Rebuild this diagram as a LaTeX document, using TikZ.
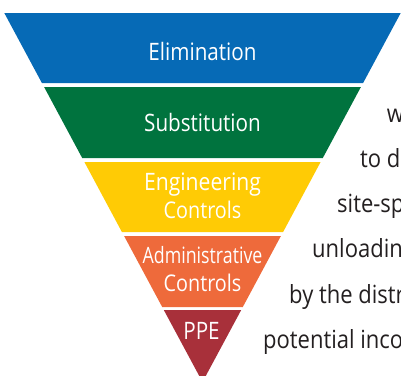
\documentclass[tikz,border=0pt]{standalone}
\usepackage{fontspec}
\setmainfont{Open Sans}[FakeStretch=0.86]
\newfontfamily\admfont{Open Sans}[FakeStretch=0.79]
\newfontfamily\engfont{Open Sans}[FakeStretch=0.88]
\newfontfamily\bodyfont{Open Sans}[FakeStretch=0.88]
\definecolor{elimc}{HTML}{066AB6}
\definecolor{subsc}{HTML}{00733E}
\definecolor{engc}{HTML}{FFCB05}
\definecolor{admc}{HTML}{EE6A3B}
\definecolor{ppec}{HTML}{A8303A}
\definecolor{bodyc}{HTML}{231F20}
\begin{document}
\begin{tikzpicture}[x=1pt,y=-1pt,
  lbl/.style={text=white,font=\fontsize{24}{28}\selectfont,anchor=base,inner sep=0pt},
  lbleng/.style={lbl,font=\engfont\fontsize{24}{28}\selectfont},
  lblctl/.style={lbl,font=\fontsize{23}{28}\selectfont},
  lbladm/.style={lbl,font=\admfont\fontsize{22.5}{28}\selectfont},
  body/.style={text=bodyc,font=\bodyfont\fontsize{25}{28}\selectfont,anchor=base west,inner sep=0pt}]
\useasboundingbox (0,0) rectangle (401,375);
\begin{scope}
\clip (0,0) rectangle (401,375);
\fill[elimc] (4.3,13) -- (400.7,13) -- (363.1,83) -- (41.9,83) -- cycle;
\fill[subsc] (44.1,87) -- (360.9,87) -- (322.8,158) -- (82.2,158) -- cycle;
\fill[engc] (84.4,162) -- (320.6,162) -- (283.1,232) -- (121.9,232) -- cycle;
\fill[admc] (124.1,236) -- (280.9,236) -- (242.8,307) -- (162.2,307) -- cycle;
\fill[ppec] (163.8,310) -- (241.2,310) -- (202.5,382) -- cycle;
\node[lbl] (elim) at (202.5,60) {Elimination};
\node[lbl] (subs) at (202.5,131) {Substitution};
\node[lbleng] (eng1) at (202.5,190) {Engineering};
\node[lblctl] (eng2) at (202.5,218) {Controls};
\node[lbladm] (adm1) at (202.5,263) {Administrative};
\node[lblctl] (adm2) at (202.5,291.5) {Controls};
\node[lbl] (ppe) at (201.5,339) {PPE};
\node[body] (t1) at (386.7,122) {w};
\node[body] (t2) at (360,167) {to d};
\node[body] (t3) at (337,212) {site-sp};
\node[body] (t4) at (312,257) {unloadin};
\node[body] (t5) at (289,303) {by the distr};
\node[body] (t6) at (263,348) {potential inco};
\end{scope}
\end{tikzpicture}
\end{document}
